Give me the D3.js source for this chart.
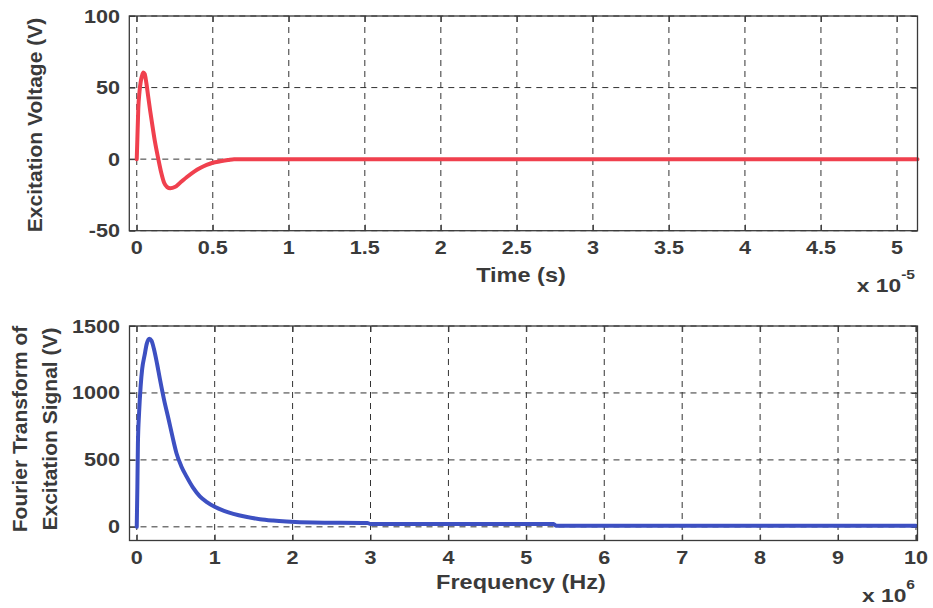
<!DOCTYPE html>
<html>
<head>
<meta charset="utf-8">
<script src="https://cdn.jsdelivr.net/npm/d3@7"></script>
<style>
  body { margin: 0; background: #fff; }
  svg text { font-family: "Liberation Sans", Arial, sans-serif; font-weight: bold; fill: #3a3a3a; }
</style>
</head>
<body>
<svg id="chart" width="933" height="608"></svg>
<script>
// top panel: excitation voltage vs time (time in units of 1e-5 s)
const timeVals = [0, 0.004, 0.010, 0.018, 0.026, 0.034, 0.043, 0.052, 0.062, 0.075, 0.088, 0.105, 0.120, 0.142, 0.160, 0.180, 0.200, 0.220, 0.250, 0.280, 0.330, 0.380, 0.420, 0.460, 0.500, 0.550, 0.600, 0.640, 5.135];
const voltVals = [0, 14, 35, 47, 54, 58, 60.5, 59.5, 54, 44, 34, 22, 12, 0, -9, -16.5, -19.5, -20.3, -19.5, -17, -12.5, -8.5, -6, -4, -2.5, -1.5, -0.6, 0, 0];
const timeTicks = [0, 0.5, 1, 1.5, 2, 2.5, 3, 3.5, 4, 4.5, 5];
const voltTicks = [-50, 0, 50, 100];

// bottom panel: Fourier transform vs frequency (frequency in units of 1e6 Hz)
const freqVals = [0, 0.008, 0.015, 0.030, 0.050, 0.070, 0.100, 0.130, 0.160, 0.190, 0.220, 0.260, 0.300, 0.350, 0.410, 0.460, 0.510, 0.570, 0.640, 0.720, 0.810, 0.900, 1.000, 1.120, 1.240, 1.400, 1.580, 1.750, 1.920, 2.260, 2.960, 3.000, 5.350, 5.380, 10.0];
const ftVals  = [0, 300, 620, 850, 1050, 1180, 1280, 1370, 1405, 1390, 1330, 1220, 1095, 950, 800, 670, 550, 455, 375, 295, 228, 185, 150, 120, 97, 75, 57, 47, 40, 32, 28, 22, 22, 8, 8];
const freqTicks = [0, 1, 2, 3, 4, 5, 6, 7, 8, 9, 10];
const ftTicks = [0, 500, 1000, 1500];

const svg = d3.select("#chart");
const ink = "#3a3a3a";

function panel(opt) {
  const x = d3.scaleLinear().domain(opt.xDomain).range([opt.left, opt.right]);
  const y = d3.scaleLinear().domain(opt.yDomain).range([opt.bottom, opt.top]);
  const g = svg.append("g");

  // grid
  g.selectAll(".vg").data(opt.xTicks).enter().append("line")
    .attr("x1", d => x(d)).attr("x2", d => x(d))
    .attr("y1", opt.top).attr("y2", opt.bottom)
    .attr("stroke", "#333").attr("stroke-width", 1).attr("stroke-dasharray", "6,5");
  g.selectAll(".hg").data(opt.yTicks).enter().append("line")
    .attr("x1", opt.left).attr("x2", opt.right)
    .attr("y1", d => y(d)).attr("y2", d => y(d))
    .attr("stroke", "#333").attr("stroke-width", 1).attr("stroke-dasharray", "6,5");

  // inward ticks via axes
  const tl = 6;
  g.append("g").attr("transform", `translate(0,${opt.bottom})`)
    .call(d3.axisTop(x).tickValues(opt.xTicks).tickSize(tl).tickFormat(""))
    .call(a => a.select(".domain").remove());
  g.append("g").attr("transform", `translate(0,${opt.top})`)
    .call(d3.axisBottom(x).tickValues(opt.xTicks).tickSize(tl).tickFormat(""))
    .call(a => a.select(".domain").remove());
  g.append("g").attr("transform", `translate(${opt.left},0)`)
    .call(d3.axisRight(y).tickValues(opt.yTicks).tickSize(tl).tickFormat(""))
    .call(a => a.select(".domain").remove());
  g.append("g").attr("transform", `translate(${opt.right},0)`)
    .call(d3.axisLeft(y).tickValues(opt.yTicks).tickSize(tl).tickFormat(""))
    .call(a => a.select(".domain").remove());
  g.selectAll(".tick line").attr("stroke", ink).attr("stroke-width", 1);

  // data line
  const line = d3.line().curve(d3.curveMonotoneX).x(d => x(d[0])).y(d => y(d[1]));
  g.append("path")
    .datum(opt.xs.map((v, i) => [v, opt.ys[i]]))
    .attr("d", line)
    .attr("fill", "none")
    .attr("stroke", opt.color)
    .attr("stroke-width", 4)
    .attr("stroke-linejoin", "round")
    .attr("stroke-linecap", "round");

  // box
  g.append("rect")
    .attr("x", opt.left).attr("y", opt.top)
    .attr("width", opt.right - opt.left).attr("height", opt.bottom - opt.top)
    .attr("fill", "none").attr("stroke", ink).attr("stroke-width", 1.3);

  // tick labels
  g.selectAll(".xl").data(opt.xTicks).enter().append("text")
    .attr("transform", d => `translate(${x(d)},${opt.bottom + 23}) scale(1.2,1)`)
    .attr("text-anchor", "middle")
    .style("font-size", "18px")
    .text(d => d3.format("")(d));
  g.selectAll(".yl").data(opt.yTicks).enter().append("text")
    .attr("transform", d => `translate(120,${y(d) + 6.5}) scale(1.2,1)`)
    .attr("text-anchor", "end")
    .style("font-size", "18px")
    .text(d => d);

  return { x, y };
}

panel({
  left: 129.3, right: 917.5, top: 16, bottom: 230.7,
  xDomain: [-0.049, 5.135], yDomain: [-50, 100],
  xTicks: timeTicks, yTicks: voltTicks,
  xs: timeVals, ys: voltVals, color: "#f0404e"
});

panel({
  left: 129.5, right: 917.5, top: 326, bottom: 540.5,
  xDomain: [-0.093, 10.02], yDomain: [-102, 1500],
  xTicks: freqTicks, yTicks: ftTicks,
  xs: freqVals, ys: ftVals, color: "#3d50c2"
});

// axis titles
svg.append("text")
  .attr("transform", "translate(521,281.5) scale(1.12,1)")
  .attr("text-anchor", "middle").style("font-size", "21px")
  .text("Time (s)");
svg.append("text")
  .attr("transform", "translate(521,589) scale(1.12,1)")
  .attr("text-anchor", "middle").style("font-size", "21px")
  .text("Frequency (Hz)");

svg.append("text")
  .attr("transform", "translate(41.5,125) rotate(-90)")
  .attr("text-anchor", "middle").style("font-size", "21px")
  .text("Excitation Voltage (V)");
svg.append("text")
  .attr("transform", "translate(27,429) rotate(-90)")
  .attr("text-anchor", "middle").style("font-size", "21px")
  .text("Fourier Transform of");
svg.append("text")
  .attr("transform", "translate(56.5,429) rotate(-90)")
  .attr("text-anchor", "middle").style("font-size", "21px")
  .text("Excitation Signal (V)");

// exponent labels
function expLabel(xEnd, yBase, expo) {
  const t = svg.append("text")
    .attr("transform", `translate(${xEnd},${yBase}) scale(1.2,1)`)
    .attr("text-anchor", "end").style("font-size", "19px");
  t.append("tspan").text("x 10");
  t.append("tspan").attr("dy", -13).style("font-size", "13px").text(expo);
}
expLabel(915, 291.5, "-5");
expLabel(915, 601.5, "6");
</script>
</body>
</html>
